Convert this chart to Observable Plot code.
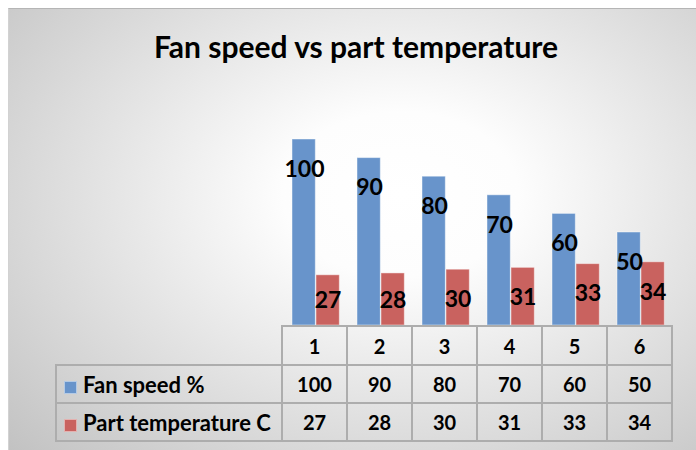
<!DOCTYPE html>
<html><head><meta charset="utf-8">
<script src="https://cdn.jsdelivr.net/npm/d3@7"></script>
<script src="https://cdn.jsdelivr.net/npm/@observablehq/plot@0.6"></script>
<style>
body{margin:0;width:696px;height:450px;position:relative;overflow:hidden;background:#fff;font-family:Lato,"Noto Sans",sans-serif;}
#bg{position:absolute;left:8px;top:8px;width:688px;height:442px;box-sizing:border-box;border-top:1px solid #b5b5b5;border-left:1px solid #d2d2d2;
 background:radial-gradient(ellipse 78% 85% at 57% 42%, #ffffff 0%, #fdfdfd 22%, #c2c2c2 100%);}
#title{position:absolute;left:56px;width:600px;top:28px;text-align:center;font-weight:700;font-size:30px;line-height:36px;color:#000;white-space:nowrap;}
#plot{position:absolute;left:0;top:0;}
#tbl{position:absolute;left:55px;top:325px;border-collapse:collapse;table-layout:fixed;font-weight:700;font-size:20px;color:#000;}
#tbl td{border:2px solid #adadad;padding:0;text-align:center;vertical-align:middle;}
#tbl td.lab{text-align:left;padding-left:7px;white-space:nowrap;font-size:22px;}
#tbl td.empty{border-top:none;border-left:none;}
.sw{display:inline-block;width:13px;height:13px;margin-right:6px;vertical-align:-1px;box-sizing:border-box;border:1px solid rgba(255,255,255,0.5);}
</style></head>
<body>
<div id="bg"></div>
<div id="title">Fan speed vs part temperature</div>
<div id="plot"></div>
<table id="tbl"></table>
<script>
const categories = ["1","2","3","4","5","6"];
const seriesNames = ["Fan speed %","Part temperature C"];
const fanSpeed = [100,90,80,70,60,50];
const partTemp = [27,28,30,31,33,34];
const colors = ["#6894cb","#c9625f"];

const fanData = categories.map((c,i)=>({cat:c,value:fanSpeed[i]}));
const tempData = categories.map((c,i)=>({cat:c,value:partTemp[i]}));
const labelFloor = 29.6; // lowest label anchor (keeps label inside bar, like Excel)

const chart = Plot.plot({
  width:696, height:330,
  marginLeft:281, marginRight:21, marginTop:139, marginBottom:5,
  x:{domain:categories, padding:0, axis:null},
  y:{domain:[0,100], axis:null},
  style:{background:"transparent", overflow:"visible", fontFamily:"Lato, sans-serif"},
  marks:[
    Plot.barY(fanData,{x:"cat", y:"value", fill:colors[0], insetLeft:9, insetRight:32.7, stroke:"#ffffff", strokeOpacity:0.45, strokeWidth:1}),
    Plot.barY(tempData,{x:"cat", y:"value", fill:colors[1], insetLeft:33, insetRight:8.7, stroke:"#ffffff", strokeOpacity:0.45, strokeWidth:1}),
    Plot.text(fanData,{x:"cat", y:"value", text:d=>String(d.value), dx:-11.5, dy:30, fontSize:23, fontWeight:700, fill:"#000"}),
    Plot.text(tempData,{x:"cat", y:d=>Math.max(d.value,labelFloor), text:d=>String(d.value), dx:12, dy:30, fontSize:23, fontWeight:700, fill:"#000"})
  ]
});
document.getElementById("plot").appendChild(chart);

const xs = chart.scale("x");
const bw = xs.bandwidth;
const left0 = xs.range[0];
const tbl = document.getElementById("tbl");
const tableLeft = 55;
const cg = document.createElement("colgroup");
const c0 = document.createElement("col"); c0.style.width = (left0 - tableLeft) + "px"; cg.appendChild(c0);
categories.forEach(()=>{const c=document.createElement("col"); c.style.width = bw + "px"; cg.appendChild(c);});
tbl.appendChild(cg);
tbl.style.width = (left0 - tableLeft + bw*categories.length) + "px";

const hdr = tbl.insertRow();
hdr.style.height = "39px";
const e = hdr.insertCell(); e.className = "empty";
categories.forEach(c=>{hdr.insertCell().textContent = c;});
[fanSpeed, partTemp].forEach((vals, si)=>{
  const r = tbl.insertRow();
  r.style.height = "38px";
  const lc = r.insertCell(); lc.className = "lab";
  const sw = document.createElement("span"); sw.className = "sw"; sw.style.background = colors[si];
  lc.appendChild(sw);
  lc.appendChild(document.createTextNode(seriesNames[si]));
  vals.forEach(v=>{r.insertCell().textContent = String(v);});
});
</script>
</body></html>
